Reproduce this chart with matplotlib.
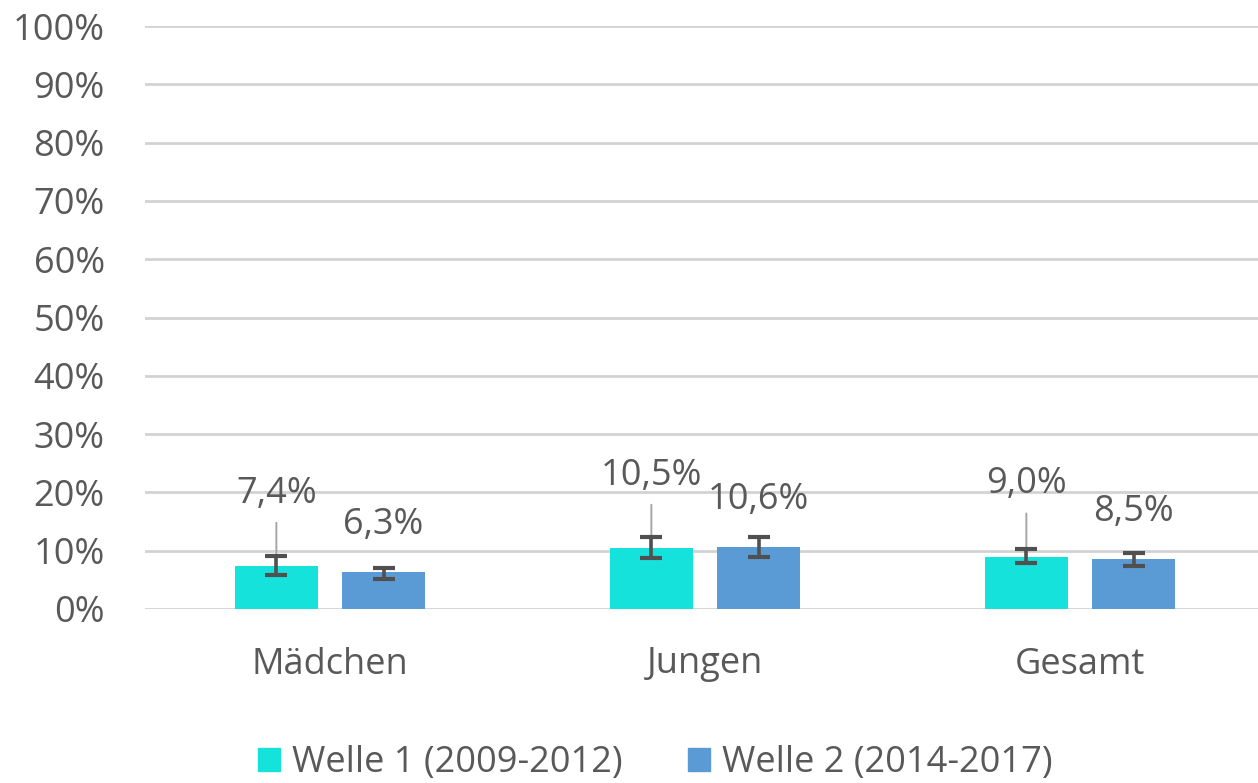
import numpy as np
import matplotlib
matplotlib.use("Agg")
import matplotlib.pyplot as plt
from matplotlib.patches import Patch

plt.rcParams['font.family'] = ['Open Sans', 'DejaVu Sans']

categories = ["Mädchen", "Jungen", "Gesamt"]
series_names = ["Welle 1 (2009-2012)", "Welle 2 (2014-2017)"]
welle1 = np.array([7.4, 10.5, 9.0])
welle2 = np.array([6.3, 10.6, 8.5])
# confidence intervals
welle1_low = np.array([5.8, 8.7, 7.9])
welle1_high = np.array([9.1, 12.3, 10.3])
welle2_low = np.array([5.1, 8.9, 7.4])
welle2_high = np.array([7.0, 12.3, 9.6])
labels1 = ["7,4%", "10,5%", "9,0%"]
labels2 = ["6,3%", "10,6%", "8,5%"]
yticks = np.arange(0, 101, 10)

c1 = "#16e2dc"
c2 = "#5b9bd5"
txt = "#595959"
fs = 26

fig = plt.figure(figsize=(12.58, 7.83), dpi=100)
ax = fig.add_axes([145 / 1258, 1 - 609 / 783, 1 - 145 / 1258, (609 - 26) / 783])

x = np.arange(len(categories))
w = 0.221
off = 0.143

ax.bar(x - off, welle1, w, color=c1, zorder=2)
ax.bar(x + off, welle2, w, color=c2, zorder=2)

err1 = [welle1 - welle1_low, welle1_high - welle1]
err2 = [welle2 - welle2_low, welle2_high - welle2]
ekw = dict(fmt='none', ecolor="#505050", elinewidth=2.6, capsize=8, capthick=3, zorder=4)
ax.errorbar(x - off, welle1, yerr=err1, **ekw)
ax.errorbar(x + off, welle2, yerr=err2, **ekw)

# leader lines of the outer labels
for xi, v in zip(x - off, welle1):
    ax.annotate('', xy=(xi, v), xytext=(0, 31), textcoords='offset points',
                arrowprops=dict(arrowstyle='-', color="#a6a6a6", lw=1.4,
                                shrinkA=0, shrinkB=0), zorder=3)

for xi, v, s in zip(x - off, welle1, labels1):
    ax.annotate(s, xy=(xi, v), xytext=(0, 52), textcoords='offset points',
                ha='center', va='center', fontsize=fs, color=txt)
for xi, v, s in zip(x + off, welle2, labels2):
    ax.annotate(s, xy=(xi, v), xytext=(0, 34), textcoords='offset points',
                ha='center', va='center', fontsize=fs, color=txt)

ax.set_xlim(-0.4933, 2.4747)
ax.set_ylim(0, 100)
ax.set_yticks(yticks)
ax.set_yticklabels([f"{t}%" for t in yticks])
ax.set_xticks(x)
ax.set_xticklabels(categories)
ax.tick_params(axis='both', length=0, labelsize=fs, labelcolor=txt)
ax.tick_params(axis='y', pad=29)
ax.tick_params(axis='x', pad=27)
ax.grid(axis='y', color="#d3d3d3", lw=2, zorder=0)
ax.set_axisbelow(True)
for sp in ax.spines.values():
    sp.set_visible(False)

handles = [Patch(color=c1), Patch(color=c2)]
fig.legend(handles, series_names, loc='center', bbox_to_anchor=(0.521, 1 - 763 / 783),
           ncol=2, frameon=False, fontsize=fs, labelcolor=txt,
           handlelength=0.6, handleheight=0.6, handletextpad=0.35,
           columnspacing=1.8)

fig.savefig("out.png", dpi=100, facecolor="white")
